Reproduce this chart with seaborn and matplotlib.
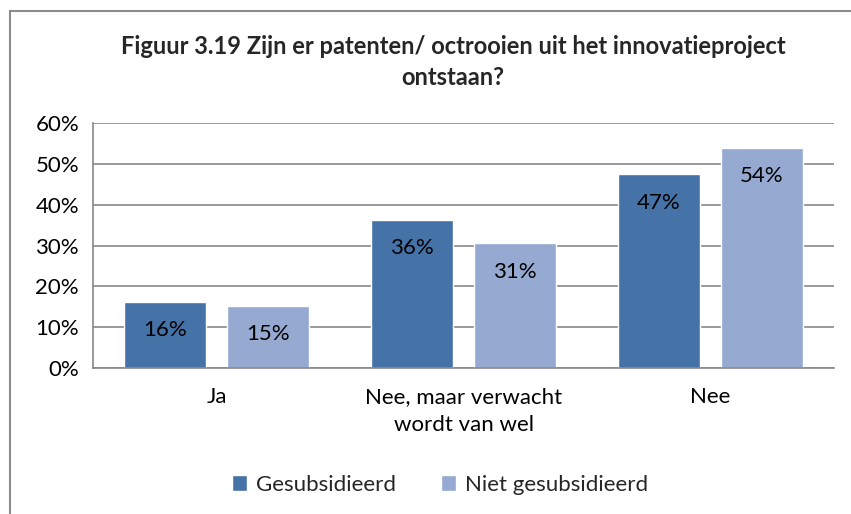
import pandas as pd
import matplotlib
matplotlib.use('Agg')
import matplotlib.pyplot as plt
import seaborn as sns
from matplotlib.patches import Rectangle
from matplotlib.ticker import PercentFormatter

# data
categorieen = ['Ja', 'Nee, maar verwacht\nwordt van wel', 'Nee']
gesubsidieerd = [16.2, 36.3, 47.4]
niet_gesubsidieerd = [15.3, 30.6, 54.0]
reeksen = ['Gesubsidieerd', 'Niet gesubsidieerd']
kleuren = ['#4572A7', '#95A9D1']

df = pd.DataFrame({
    'categorie': categorieen * 2,
    'reeks': [reeksen[0]] * 3 + [reeksen[1]] * 3,
    'waarde': gesubsidieerd + niet_gesubsidieerd,
})

sns.set_theme(style='white')
plt.rcParams['font.family'] = ['Lato', 'DejaVu Sans']

fig = plt.figure(figsize=(8.51, 5.14), dpi=100)
ax = fig.add_axes([93 / 851, 1 - 368 / 514, 741 / 851, 245 / 514])

sns.barplot(data=df, x='categorie', y='waarde', hue='reeks', palette=kleuren,
            width=0.834, gap=0.2, ax=ax, saturation=1, errorbar=None)

for cont in ax.containers:
    for bar in cont:
        h = bar.get_height()
        ax.annotate(f'{h:.0f}%', (bar.get_x() + bar.get_width() / 2, h),
                    xytext=(0, -20.5), textcoords='offset points',
                    ha='center', va='center', fontsize=16, color='black')

ax.set_ylim(0, 60)
ax.set_yticks(range(0, 61, 10))
ax.yaxis.set_major_formatter(PercentFormatter(decimals=0))
ax.grid(axis='y', color='#888888', linewidth=1.2)
ax.set_axisbelow(True)
for s in ['top', 'right']:
    ax.spines[s].set_visible(False)
for s in ['left', 'bottom']:
    ax.spines[s].set_color('#888888')
    ax.spines[s].set_linewidth(1.2)
ax.tick_params(axis='both', labelsize=16, colors='black', length=0)
ax.tick_params(axis='y', pad=10)
ax.tick_params(axis='x', pad=14)
for lbl in ax.get_xticklabels():
    lbl.set_linespacing(1.45)
ax.set_xlabel('')
ax.set_ylabel('')

ax.legend(loc='center', bbox_to_anchor=(440 / 851, 1 - 485 / 514), bbox_transform=fig.transFigure,
          ncol=2, frameon=False, fontsize=16, handlelength=0.7, handleheight=0.7,
          handletextpad=0.4, columnspacing=2.0)

fig.text(453 / 851, 1 - 62 / 514,
         'Figuur 3.19 Zijn er patenten/ octrooien uit het innovatieproject\nontstaan?',
         ha='center', va='center', fontsize=17, fontweight='bold', linespacing=1.45)

fig.patches.append(Rectangle((10 / 851, -0.1), 1.2, 1.1 - 11 / 514, transform=fig.transFigure,
                             fill=False, edgecolor='#8c8c8c', linewidth=1.5))

fig.savefig('out.png', dpi=100)
